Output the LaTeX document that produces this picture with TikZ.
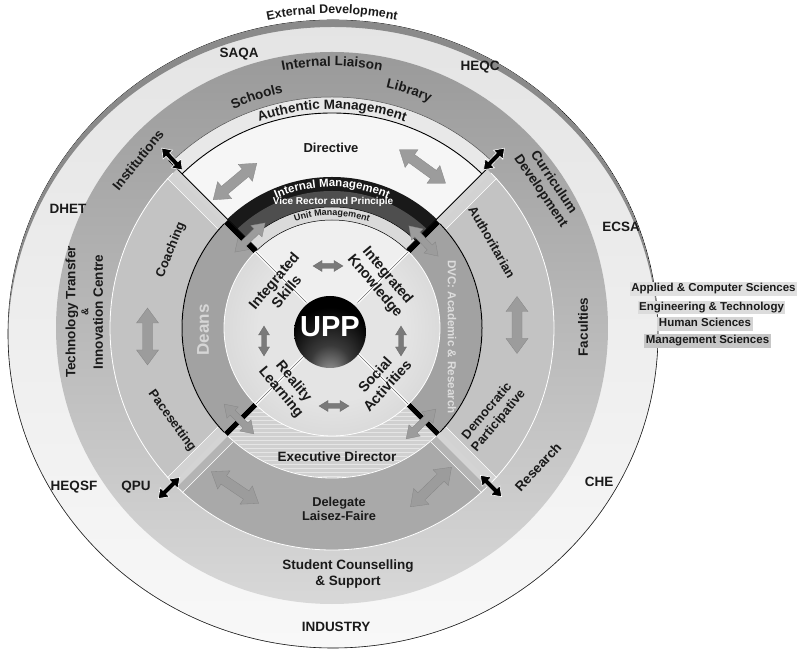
\documentclass[tikz,border=0pt]{standalone}
\usepackage{fontspec}
\setmainfont{Liberation Sans}
\usetikzlibrary{decorations.text}
\definecolor{txt}{HTML}{1A1A1A}
\definecolor{outerA}{HTML}{E4E4E4}
\definecolor{outerB}{HTML}{F8F8F8}
\definecolor{crest}{HTML}{8A8A8A}
\definecolor{ringTop}{HTML}{9A9A9A}
\definecolor{ringBot}{HTML}{D8D8D8}
\definecolor{gapc}{HTML}{D4D4D4}
\definecolor{sidec}{HTML}{C3C3C3}
\definecolor{bevelc}{HTML}{D2D2D2}
\definecolor{delc}{HTML}{A9A9A9}
\definecolor{delbev}{HTML}{B4B4B4}
\definecolor{execc}{HTML}{D0D0D0}
\definecolor{darkIn}{HTML}{A2A2A2}
\definecolor{darkMid}{HTML}{686868}
\definecolor{darkOut}{HTML}{333333}
\definecolor{innerIn}{HTML}{E4E4E4}
\definecolor{innerOut}{HTML}{BBBBBB}
\definecolor{topin}{HTML}{EFEFEF}
\definecolor{dirc}{HTML}{F6F6F6}
\definecolor{authc}{HTML}{E8E8E8}
\definecolor{vrc}{HTML}{4E4E4E}
\definecolor{unitc}{HTML}{DADADA}
\definecolor{arrowc}{HTML}{9C9C9C}
\definecolor{arrowd}{HTML}{7A7A7A}
\definecolor{upphi}{HTML}{A8A8A8}
\definecolor{uppmid}{HTML}{3A3A3A}
\definecolor{boxA}{HTML}{E0E0E0}
\definecolor{boxB}{HTML}{DCDCDC}
\definecolor{boxC}{HTML}{D4D4D4}
\definecolor{boxD}{HTML}{C6C6C6}
\definecolor{deanc}{HTML}{D6D6D6}
\definecolor{dvcc}{HTML}{DDDDDD}
\pgfdeclareradialshading{darkring}{\pgfpoint{0bp}{0bp}}{color(0bp)=(darkIn); color(36bp)=(darkIn); color(43bp)=(darkMid); color(50bp)=(darkOut)}
\pgfdeclareradialshading{innershade}{\pgfpoint{0bp}{0bp}}{color(0bp)=(innerIn); color(17bp)=(innerIn); color(50bp)=(innerOut)}
\pgfdeclareradialshading{uppshade}{\pgfpoint{0bp}{-32bp}}{color(0bp)=(upphi); color(14bp)=(uppmid); color(30bp)=(black); color(50bp)=(black)}
\newcommand{\curvetext}[6]{%
  \path[decorate, decoration={text along path, text align=center, text color=#5,
    text={|\fontsize{#4}{#4}\selectfont\bfseries|#6}}]
    (#2:#1) arc[start angle=#2, end angle=#3, radius=#1];}
\tikzset{
  pics/dbl/.style n args={4}{code={
    \path[pic actions] ({-#1/2},0) -- ({-#1/2+#4},{#2/2}) -- ({-#1/2+#4},{#3/2})
      -- ({#1/2-#4},{#3/2}) -- ({#1/2-#4},{#2/2}) -- ({#1/2},0)
      -- ({#1/2-#4},{-#2/2}) -- ({#1/2-#4},{-#3/2}) -- ({-#1/2+#4},{-#3/2})
      -- ({-#1/2+#4},{-#2/2}) -- cycle;}},
  garrow/.style={fill=arrowc, draw=arrowc!85!black, line width=0.3pt},
  sarrow/.style={fill=arrowd, draw=arrowd!85!black, line width=0.3pt},
  barrow/.style={fill=black, draw=white, line width=0.6pt},
  lbl/.style={font=\fontsize{13.5}{15.5}\selectfont\bfseries, text=txt, inner sep=0pt, align=center},
  qlbl/.style={font=\fontsize{12.8}{15}\selectfont\bfseries, text=txt, inner sep=0pt, align=center},
  ilbl/.style={font=\fontsize{14.4}{16.5}\selectfont\bfseries, text=txt, inner sep=0pt, align=center},
  listbox/.style={font=\fontsize{11.5}{12}\selectfont\bfseries, text=txt, inner xsep=1.5pt, inner ysep=1.2pt, text height=8.5pt, text depth=2.5pt},
  streak/.style={white, opacity=0.45, line width=0.6pt}
}
\begin{document}
\begin{tikzpicture}[x=1pt,y=1pt]
\useasboundingbox (0,0) rectangle (799,650);
\begin{scope}[shift={(332,322)}]
% outer disk (slightly flattened)
\shade[top color=outerA, bottom color=outerB] (1,-6) ellipse [x radius=325, y radius=314];
\draw[black, line width=0.6pt] (1,-6) ellipse [x radius=325, y radius=314];
\begin{scope}
  \clip (1,-6) ellipse [x radius=325, y radius=314];
  \fill[crest, even odd rule] (1,-6) ellipse [x radius=325, y radius=314]
        (1,-13) ellipse [x radius=325, y radius=314];
\end{scope}
% ring 2
\shade[top color=ringTop, bottom color=ringBot] (0,0) circle (276);
\fill[gapc] (0,0) circle (222);
% top quadrant
\begin{scope}
  \clip (0,4.24) -- (420,424.24) -- (-420,424.24) -- cycle;
  \fill[dirc] (0,0) circle (231);
  \fill[authc, even odd rule] (0,0) circle (231) (0,0) circle (215);
  \draw[black, line width=0.9pt] (0,0) circle (215);
  \draw[black!70, line width=0.5pt] (0,0) circle (231);
  \fill[black!90] (0,0) circle (151);
  \fill[vrc] (0,0) circle (137);
  \fill[unitc] (0,0) circle (121);
  \draw[black, line width=0.5pt] (0,0) circle (121);
\end{scope}
\draw[black, line width=0.8pt] (0,4.24) ++(45:106) -- ++(45:125);
\draw[black, line width=0.8pt] (0,4.24) ++(135:106) -- ++(135:125);
% side quadrants
\foreach \rot/\mc/\bc/\dark in {-90/sidec/bevelc/1, 90/sidec/bevelc/1, 180/delc/delbev/0}{
  \begin{scope}[rotate=\rot]
    \clip (0,4.24) -- (420,424.24) -- (-420,424.24) -- cycle;
    \ifnum\dark=1
      \shade[shading=darkring] (0,0) circle (150);
    \else
      \fill[execc] (0,0) circle (150);
    \fi
    \fill[\bc, even odd rule] (0,0) circle (222) (0,0) circle (150);
    \begin{scope}
      \clip (0,15) -- (420,435) -- (-420,435) -- cycle;
      \fill[\mc, even odd rule] (0,0) circle (222) (0,0) circle (150);
    \end{scope}
    \draw[white, line width=0.6pt] (0,15) ++(45:140) -- ++(45:72);
    \draw[white, line width=0.6pt] (0,15) ++(135:140) -- ++(135:72);
    \draw[white, line width=0.8pt] (0,0) circle (222) (0,0) circle (150);
    \ifnum\dark=1 \draw[black, line width=1pt] (0,0) circle (150); \fi
  \end{scope}
}
% streaks on the executive director ring
\begin{scope}
  \clip (0,-4.24) -- (-420,-424.24) -- (420,-424.24) -- cycle;
  \clip (0,0) circle (149);
  \foreach \y in {-148,-144,...,-60}{\draw[streak] (-150,\y) -- (150,\y);}
\end{scope}
\foreach \a in {45,135,225,315}{\draw[black, line width=5pt] (\a:108) -- (\a:150);}
% inner circle
\shade[shading=innershade] (0,0) circle (108);
\fill[topin] (0,0) -- (45:108) arc[start angle=45, end angle=135, radius=108] -- cycle;
\draw[black, line width=0.5pt] (45:108) arc[start angle=45, end angle=135, radius=108];
\draw[white, line width=0.8pt] (135:108) arc[start angle=135, end angle=405, radius=108];
\foreach \a in {45,135,225,315}{
  \draw[white, line width=3pt] (\a:36) -- (\a:108);
  \draw[black!60, line width=0.5pt] (\a:36) -- (\a:108);}
% UPP sphere
\shade[shading=uppshade] (-2,-4) circle (36);
% arrows
\pic[garrow, rotate=40] at (-97,146.5) {dbl={57}{22}{10}{15}};
\pic[garrow, rotate=-36] at (90.5,161.5) {dbl={57}{22}{10}{15}};
\pic[garrow, rotate=90] at (185,3) {dbl={57}{22}{10}{15}};
\pic[garrow, rotate=90] at (-184.5,-8.5) {dbl={57}{22}{10}{15}};
\pic[garrow, rotate=-34] at (-97,-159.5) {dbl={57}{22}{10}{15}};
\pic[garrow, rotate=44] at (99,-159) {dbl={57}{22}{10}{15}};
\pic[garrow, rotate=44] at (-82,90.5) {dbl={42}{16}{7}{12}};
\pic[garrow, rotate=-46] at (91.5,87) {dbl={42}{16}{7}{12}};
\pic[garrow, rotate=-45] at (-93,-91) {dbl={42}{16}{7}{12}};
\pic[garrow, rotate=45] at (89,-96) {dbl={42}{16}{7}{12}};
\pic[sarrow] at (-4,62) {dbl={30}{11}{5}{9}};
\pic[sarrow, rotate=90] at (-68,-13) {dbl={30}{11}{5}{9}};
\pic[sarrow, rotate=90] at (69,-13) {dbl={30}{11}{5}{9}};
\pic[sarrow] at (2,-78) {dbl={30}{11}{5}{9}};
\pic[barrow, rotate=133.4] at (-160,169) {dbl={30}{13}{5}{9}};
\pic[barrow, rotate=46] at (162,169) {dbl={30}{13}{5}{9}};
\pic[barrow, rotate=44.5] at (-163,-160) {dbl={30}{13}{5}{9}};
\pic[barrow, rotate=-45] at (159,-158) {dbl={30}{13}{5}{9}};
% curved texts
\curvetext{314.5}{120}{60}{12.4}{txt}{External Development}
\curvetext{262}{125}{55}{13.5}{txt}{Internal Liaison}
\curvetext{240}{128}{88}{13.5}{txt}{Schools}
\curvetext{246}{92}{52}{13.5}{txt}{Library}
\curvetext{219}{125}{55}{13.5}{txt}{Authentic Management}
\curvetext{141}{125}{55}{11.5}{white}{Internal Management}
\curvetext{112.5}{120}{60}{9}{txt}{Unit Management}
% labels
\node[lbl] (saqa) at (-93,274) {SAQA};
\node[lbl] (heqc) at (148,261) {HEQC};
\node[lbl] (dhet) at (-264,119) {DHET};
\node[lbl] (ecsa) at (289,101) {ECSA};
\node[lbl] (heqsf) at (-258,-159) {HEQSF};
\node[lbl] (che) at (267,-154) {CHE};
\node[lbl] (industry) at (4,-299) {INDUSTRY};
\node[lbl] (qpu) at (-196,-159) {QPU};
\node[lbl, rotate=51] (inst) at (-194,168) {Institutions};
\node[lbl, rotate=-56] (curr) at (215,141) {Curriculum\\Development};
\node[lbl, rotate=90] (fac) at (251,1) {Faculties};
\node[lbl, rotate=47] (res) at (206,-139) {Research};
\node[lbl, rotate=90] (tech1) at (-260,16) {Technology Transfer};
\node[lbl, rotate=90, font=\fontsize{10}{10}\selectfont\bfseries] (tech2) at (-247,16) {\&};
\node[lbl, rotate=90] (tech3) at (-234,16) {Innovation Centre};
\node[lbl] (scs) at (16,-246) {Student Counselling\\\& Support};
\node[lbl, font=\fontsize{13}{15}\selectfont\bfseries] (dir) at (-1,180) {Directive};
\node[qlbl, rotate=68] (coach) at (-161,78) {Coaching};
\node[qlbl, rotate=-54] (pace) at (-160,-93) {Pacesetting};
\node[qlbl, rotate=-60] (auth) at (160,86) {Authoritarian};
\node[qlbl, rotate=50] (demo) at (161,-88) {Democratic\\Participative};
\node[qlbl, font=\fontsize{12.8}{14}\selectfont\bfseries] (dele) at (7,-181) {Delegate\\Laisez-Faire};
\node[lbl] (exec) at (5,-129) {Executive Director};
\node[lbl, rotate=90, font=\fontsize{17}{17}\selectfont\bfseries, text=deanc] (deans) at (-129,-2) {Deans};
\node[lbl, rotate=-90, font=\fontsize{11.6}{12}\selectfont\bfseries, text=dvcc] (dvc) at (120,-9) {DVC: Academic \& Research};
\node[ilbl, rotate=50] (iskill) at (-52,42) {Integrated\\Skills};
\node[ilbl, rotate=-50] (iknow) at (49,47) {Integrated\\Knowledge};
\node[ilbl, rotate=-50] (real) at (-45,-59) {Reality\\Learning};
\node[ilbl, rotate=48] (soc) at (49,-52) {Social\\Activities};
\node[lbl, font=\fontsize{29}{29}\selectfont\bfseries, text=white] (upp) at (-2,1) {UPP};
\node[lbl, font=\fontsize{10}{10}\selectfont\bfseries, text=white] (vrp) at (1,126) {Vice Rector and Principle};
% faculty list
\node[listbox, fill=boxA] (f1) at (381.5,39) {Applied \& Computer Sciences};
\node[listbox, fill=boxB] (f2) at (379.5,20.5) {Engineering \& Technology};
\node[listbox, fill=boxC] (f3) at (373,4) {Human Sciences};
\node[listbox, fill=boxD] (f4) at (375.5,-13) {Management Sciences};
\end{scope}
\end{tikzpicture}
\end{document}
